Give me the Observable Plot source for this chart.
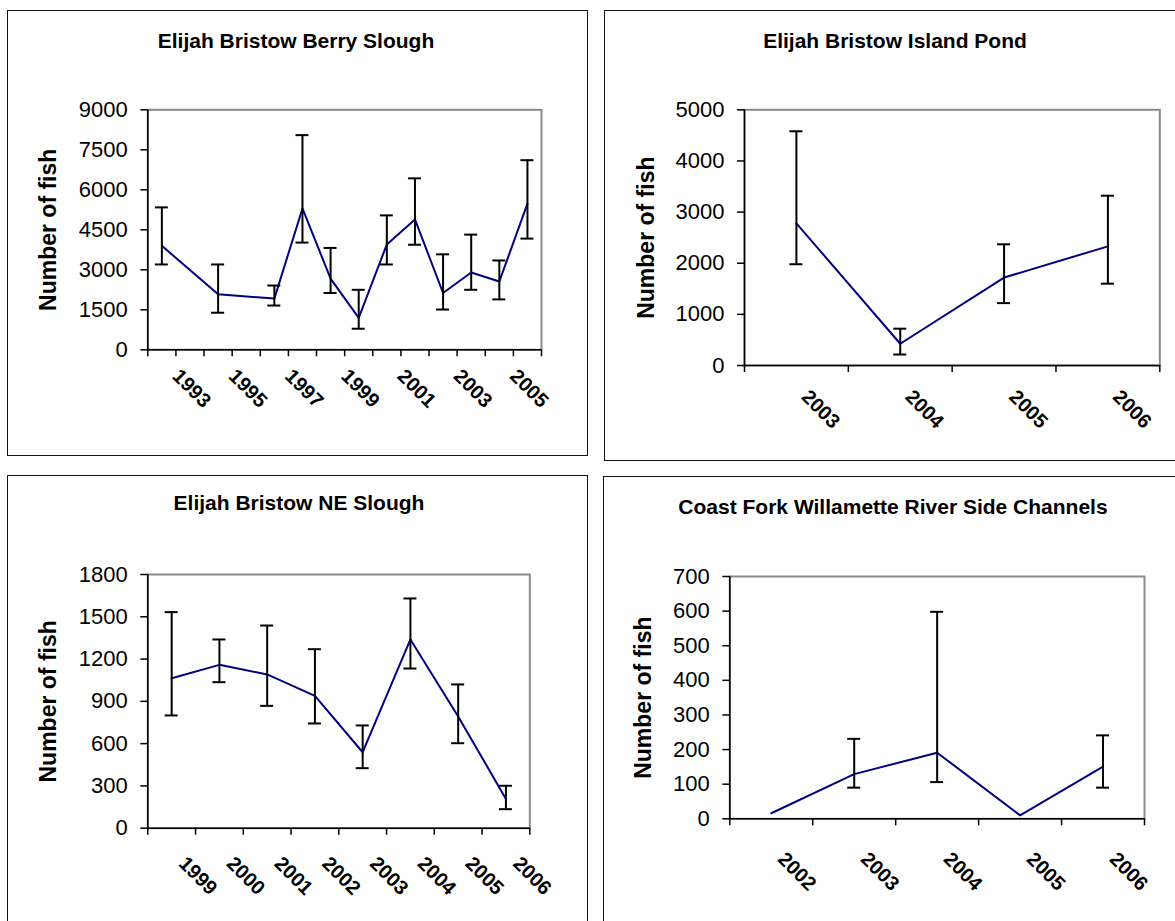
<!DOCTYPE html>
<html>
<head>
<meta charset="utf-8">
<script src="https://cdn.jsdelivr.net/npm/d3@7"></script>
<script src="https://cdn.jsdelivr.net/npm/@observablehq/plot@0.6"></script>
<style>
  body { margin: 0; background: #fff; font-family: Arial, "Liberation Sans", sans-serif; }
  #root { position: relative; width: 1175px; height: 921px; overflow: hidden; background: #fff; }
  .box { position: absolute; border: 1.5px solid #111; box-sizing: border-box; }
  .title { position: absolute; font-weight: bold; font-size: 21px; transform: translate(-50%, -50%); white-space: nowrap; color: #000; font-family: Arial, "Liberation Sans", sans-serif; }
  .chart { position: absolute; }
  .chart svg { max-width: none !important; }
</style>
</head>
<body>
<div id="root"></div>
<script>
// ---------- Panel 1: Elijah Bristow Berry Slough ----------
const berryCategories = [1993, 1994, 1995, 1996, 1997, 1998, 1999, 2000, 2001, 2002, 2003, 2004, 2005, 2006];
const berryLabelYears = [1993, 1995, 1997, 1999, 2001, 2003, 2005];
const berryYears = [1993, 1995, 1997, 1998, 1999, 2000, 2001, 2002, 2003, 2004, 2005, 2006];
const berryFish  = [3900, 2080, 1920, 5300, 2670, 1200, 3950, 4890, 2130, 2900, 2560, 5480];
const berryLow   = [3200, 1390, 1660, 4020, 2130,  790, 3200, 3940, 1510, 2250, 1890, 4170];
const berryHigh  = [5340, 3200, 2410, 8050, 3820, 2250, 5040, 6430, 3580, 4320, 3350, 7110];
const berryTicks = [0, 1500, 3000, 4500, 6000, 7500, 9000];

// ---------- Panel 2: Elijah Bristow Island Pond ----------
const islandCategories = [2003, 2004, 2005, 2006];
const islandLabelYears = [2003, 2004, 2005, 2006];
const islandYears = [2003, 2004, 2005, 2006];
const islandFish  = [2780, 425, 1720, 2330];
const islandLow   = [1980, 215, 1220, 1600];
const islandHigh  = [4580, 720, 2370, 3320];
const islandTicks = [0, 1000, 2000, 3000, 4000, 5000];

// ---------- Panel 3: Elijah Bristow NE Slough ----------
const neCategories = [1999, 2000, 2001, 2002, 2003, 2004, 2005, 2006];
const neLabelYears = [1999, 2000, 2001, 2002, 2003, 2004, 2005, 2006];
const neYears = [1999, 2000, 2001, 2002, 2003, 2004, 2005, 2006];
const neFish  = [1064, 1159, 1091, 939, 539, 1339, 793, 208];
const neLow   = [800, 1036, 868, 743, 426, 1133, 603, 135];
const neHigh  = [1533, 1339, 1438, 1270, 729, 1630, 1020, 301];
const neTicks = [0, 300, 600, 900, 1200, 1500, 1800];

// ---------- Panel 4: Coast Fork Willamette River Side Channels ----------
const coastCategories = [2002, 2003, 2004, 2005, 2006];
const coastLabelYears = [2002, 2003, 2004, 2005, 2006];
const coastYears = [2002, 2003, 2004, 2005, 2006];
const coastFish  = [16, 129, 191, 10, 151];
const coastLow   = [null, 90, 106, null, 90];
const coastHigh  = [null, 231, 598, null, 241];
const coastTicks = [0, 100, 200, 300, 400, 500, 600, 700];

const FONT = 'Arial, "Liberation Sans", sans-serif';
const root = document.getElementById("root");

function addBox(x, y, w, h) {
  const d = document.createElement("div");
  d.className = "box";
  Object.assign(d.style, {left: x + "px", top: y + "px", width: w + "px", height: h + "px"});
  root.appendChild(d);
}
function addTitle(text, cx, cy) {
  const d = document.createElement("div");
  d.className = "title";
  d.textContent = text;
  Object.assign(d.style, {left: cx + "px", top: cy + "px"});
  root.appendChild(d);
}

function panel(cfg) {
  const {categories, labelYears, years, fish, low, high, yTicks, svg, frame, yTitleX, labelDx, labelDy, labelSize} = cfg;
  const n = categories.length;
  const rows = years.map((yr, i) => ({pos: categories.indexOf(yr) + 0.5, fish: fish[i], low: low[i], high: high[i]}));
  const bars = rows.filter(d => d.low != null && d.high != null);
  const labels = labelYears.map(yr => ({pos: categories.indexOf(yr) + 0.5, text: String(yr)}));
  const boundaries = d3.range(n + 1);
  const capHalf = 6.5 * n / (frame.x1 - frame.x0);
  const yMax = yTicks[yTicks.length - 1];

  const chart = Plot.plot({
    width: svg.w,
    height: svg.h,
    marginLeft: frame.x0 - svg.x,
    marginRight: svg.x + svg.w - frame.x1,
    marginTop: frame.y0 - svg.y,
    marginBottom: svg.y + svg.h - frame.y1,
    style: {fontFamily: FONT, fontSize: "22px", background: "transparent", color: "#000", overflow: "visible"},
    x: {domain: [0, n], axis: null},
    y: {domain: [0, yMax], axis: null},
    marks: [
      Plot.frame({stroke: "#8a8a8a", strokeWidth: 2}),
      Plot.axisY({ticks: yTicks, tickSize: 7, tickPadding: 13, tickFormat: d => String(d), label: null, fontSize: 22, stroke: "#000", strokeWidth: 1.5}),
      Plot.axisX({ticks: boundaries, tickSize: 7, tickFormat: () => "", label: null, stroke: "#000", strokeWidth: 1.5}),
      Plot.ruleX([0], {stroke: "#000", strokeWidth: 1.5}),
      Plot.ruleY([0], {stroke: "#000", strokeWidth: 1.5}),
      Plot.line(rows, {x: "pos", y: "fish", stroke: "#000080", strokeWidth: 2}),
      Plot.ruleX(bars, {x: "pos", y1: "low", y2: "high", stroke: "#000", strokeWidth: 2}),
      Plot.ruleY(bars, {y: "high", x1: d => d.pos - capHalf, x2: d => d.pos + capHalf, stroke: "#000", strokeWidth: 2}),
      Plot.ruleY(bars, {y: "low", x1: d => d.pos - capHalf, x2: d => d.pos + capHalf, stroke: "#000", strokeWidth: 2}),
      Plot.text(labels, {x: "pos", text: "text", frameAnchor: "bottom", rotate: 45, textAnchor: "start", lineAnchor: "middle", dx: labelDx, dy: labelDy, fontWeight: "bold", fontSize: labelSize, fill: "#000"}),
      Plot.text(["Number of fish"], {text: d => d, frameAnchor: "left", rotate: -90, textAnchor: "middle", lineAnchor: "middle", dx: yTitleX - frame.x0, fontWeight: "bold", fontSize: 23, fill: "#000"})
    ]
  });
  const holder = document.createElement("div");
  holder.className = "chart";
  Object.assign(holder.style, {left: svg.x + "px", top: svg.y + "px", width: svg.w + "px", height: svg.h + "px"});
  holder.appendChild(chart);
  root.appendChild(holder);
}

// Boxes
addBox(7, 10, 581, 446);
addBox(604, 10, 590, 451);
addBox(7, 475, 581, 470);
addBox(603, 476, 590, 470);

// Panel 1
panel({
  categories: berryCategories, labelYears: berryLabelYears, years: berryYears,
  fish: berryFish, low: berryLow, high: berryHigh, yTicks: berryTicks,
  svg: {x: 9, y: 60, w: 577, h: 394},
  frame: {x0: 147.3, x1: 541, y0: 109.3, y1: 349.3},
  yTitleX: 48, labelDx: 14, labelDy: 23, labelSize: 20
});
addTitle("Elijah Bristow Berry Slough", 296, 41);

// Panel 2
panel({
  categories: islandCategories, labelYears: islandLabelYears, years: islandYears,
  fish: islandFish, low: islandLow, high: islandHigh, yTicks: islandTicks,
  svg: {x: 606, y: 60, w: 569, h: 399},
  frame: {x0: 744, x1: 1159.3, y0: 109.3, y1: 365},
  yTitleX: 646, labelDx: 8.5, labelDy: 28, labelSize: 20
});
addTitle("Elijah Bristow Island Pond", 895, 41);

// Panel 3
panel({
  categories: neCategories, labelYears: neLabelYears, years: neYears,
  fish: neFish, low: neLow, high: neHigh, yTicks: neTicks,
  svg: {x: 9, y: 525, w: 577, h: 396},
  frame: {x0: 147.3, x1: 529.3, y0: 574, y1: 827.7},
  yTitleX: 48.5, labelDx: 10.5, labelDy: 32, labelSize: 20
});
addTitle("Elijah Bristow NE Slough", 299, 503);

// Panel 4
panel({
  categories: coastCategories, labelYears: coastLabelYears, years: coastYears,
  fish: coastFish, low: coastLow, high: coastHigh, yTicks: coastTicks,
  svg: {x: 605, y: 525, w: 570, h: 396},
  frame: {x0: 729.3, x1: 1144, y0: 576, y1: 818.3},
  yTitleX: 643, labelDx: 10, labelDy: 37, labelSize: 20
});
addTitle("Coast Fork Willamette River Side Channels", 893, 507);
</script>
</body>
</html>
